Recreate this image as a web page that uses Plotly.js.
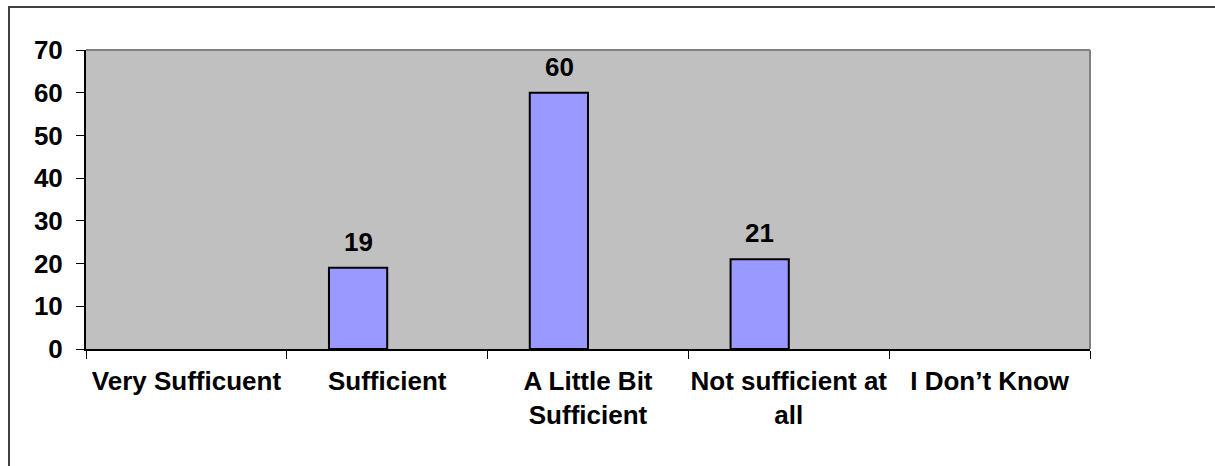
<!DOCTYPE html>
<html>
<head>
<meta charset="utf-8">
<script src="https://cdn.plot.ly/plotly-3.0.1.min.js"></script>
<style>
  html, body { margin: 0; padding: 0; background: #fff; }
  #wrap { position: relative; width: 1215px; height: 466px; }
  #chart { width: 1215px; height: 466px; }
  #frame { position: absolute; left: 8px; top: 6px; width: 1207px; height: 460px;
           border-left: 2px solid #404040; border-top: 2px solid #404040; box-sizing: border-box; pointer-events: none; }
</style>
</head>
<body>
<div id="wrap">
  <div id="chart"></div>
  <div id="frame"></div>
</div>
<script>
const categories = ["Very Sufficuent", "Sufficient", "A Little Bit<br>Sufficient", "Not sufficient at<br>all", "I Don\u2019t Know"];
const values = [0, 19, 60, 21, 0];
const yTicks = [0, 10, 20, 30, 40, 50, 60, 70];

const font = { family: "Liberation Sans, Arial, sans-serif", size: 26, color: "#000", weight: "bold" };

const trace = {
  type: "bar",
  x: categories,
  y: values.map(v => v === 0 ? null : v),
  width: 0.29,
  offset: -0.29,
  marker: { color: "#9999FF", line: { color: "#000000", width: 2 } },
  hoverinfo: "none"
};

const annotations = values.map((v, i) => v === 0 ? null : {
  x: categories[i], y: v, xref: "x", yref: "y",
  text: String(v), showarrow: false,
  xanchor: "center", yanchor: "bottom",
  xshift: -29, yshift: 9,
  font: font
}).filter(a => a);

const layout = {
  width: 1215, height: 466,
  margin: { l: 86, r: 125, t: 50, b: 117 },
  paper_bgcolor: "rgba(0,0,0,0)",
  plot_bgcolor: "#C0C0C0",
  font: font,
  showlegend: false,
  xaxis: {
    type: "category",
    categoryorder: "array",
    categoryarray: categories,
    range: [-0.5, categories.length - 0.5],
    tickson: "boundaries",
    tickangle: 0,
    automargin: false,
    ticks: "outside", ticklen: 8, tickwidth: 1, tickcolor: "#000",
    showline: true, linecolor: "#000", linewidth: 2,
    showgrid: false, zeroline: false,
    tickfont: font,
    ticklabelstandoff: 8
  },
  yaxis: {
    range: [0, 70],
    tickvals: yTicks,
    ticktext: yTicks.map(String),
    automargin: false,
    ticks: "outside", ticklen: 8, tickwidth: 1, tickcolor: "#000",
    showline: true, linecolor: "#000", linewidth: 2,
    showgrid: false, zeroline: false,
    tickfont: font,
    ticklabelstandoff: 8
  },
  annotations: annotations,
  shapes: [
    { type: "line", xref: "paper", yref: "paper", x0: 0, x1: 1, y0: 1, y1: 1, line: { color: "#808080", width: 2 } },
    { type: "line", xref: "paper", yref: "paper", x0: 1, x1: 1, y0: 0, y1: 1, line: { color: "#808080", width: 2 } }
  ]
};

Plotly.newPlot("chart", [trace], layout, { staticPlot: true, displayModeBar: false });
</script>
</body>
</html>
